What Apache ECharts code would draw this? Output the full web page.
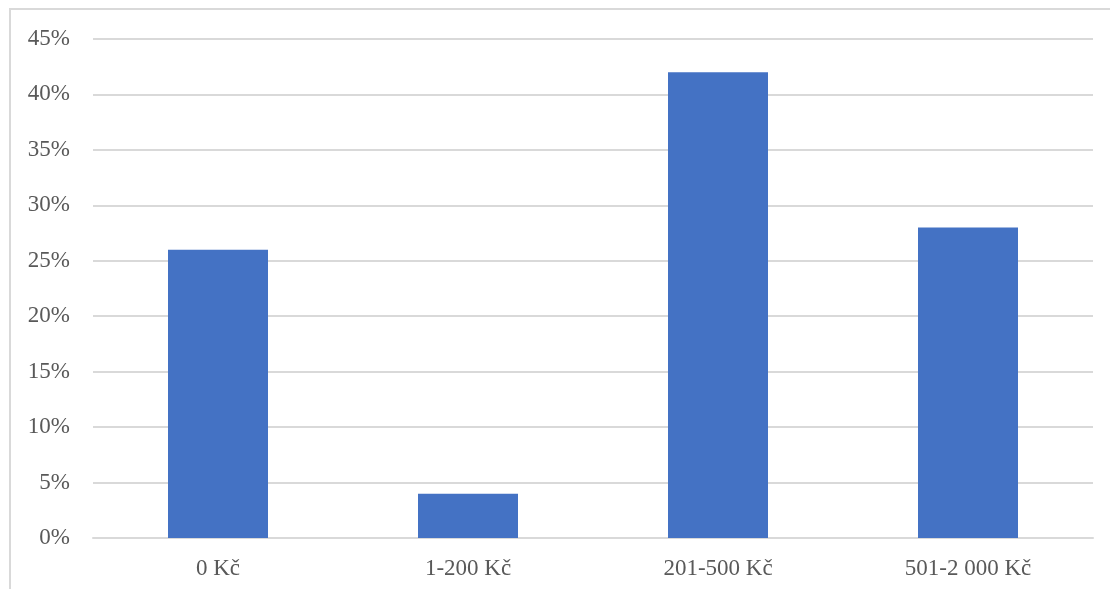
<!DOCTYPE html>
<html>
<head>
<meta charset="utf-8">
<script src="https://cdn.jsdelivr.net/npm/echarts@6/dist/echarts.min.js"></script>
<style>
  html, body { margin: 0; padding: 0; background: #fff; overflow: hidden; }
  #chart { width: 1110px; height: 589px; }
</style>
</head>
<body>
<div id="chart"></div>
<script>
// kategorie a podíly (v %)
const categories = ['0 Kč', '1-200 Kč', '201-500 Kč', '501-2 000 Kč'];
const shares = [26, 4, 42, 28];

const chart = echarts.init(document.getElementById('chart'));
const textStyle = { fontFamily: '"Liberation Serif", "Times New Roman", serif', fontSize: 23, color: '#595959' };

chart.setOption({
    animation: false,
    graphic: [
        {
            type: 'rect',
            shape: { x: 10, y: 9, width: 1300, height: 800 },
            style: { fill: 'none', stroke: '#d9d9d9', lineWidth: 2 },
            silent: true,
        },
    ],
    grid: { left: 93, right: 17, top: 39, bottom: 51 },
    xAxis: {
        type: 'category',
        data: categories,
        axisLine: { lineStyle: { color: '#d9d9d9', width: 2 } },
        axisTick: { show: false },
        axisLabel: { ...textStyle, margin: 19 },
    },
    yAxis: {
        type: 'value',
        min: 0,
        max: 45,
        interval: 5,
        axisLine: { show: false },
        axisTick: { show: false },
        splitLine: { lineStyle: { color: '#d9d9d9', width: 2 } },
        axisLabel: { ...textStyle, margin: 23, formatter: '{value}%' },
    },
    series: [
        {
            type: 'bar',
            data: shares,
            barWidth: '40%',
            itemStyle: { color: '#4472c4' },
        },
    ],
});
</script>
</body>
</html>
